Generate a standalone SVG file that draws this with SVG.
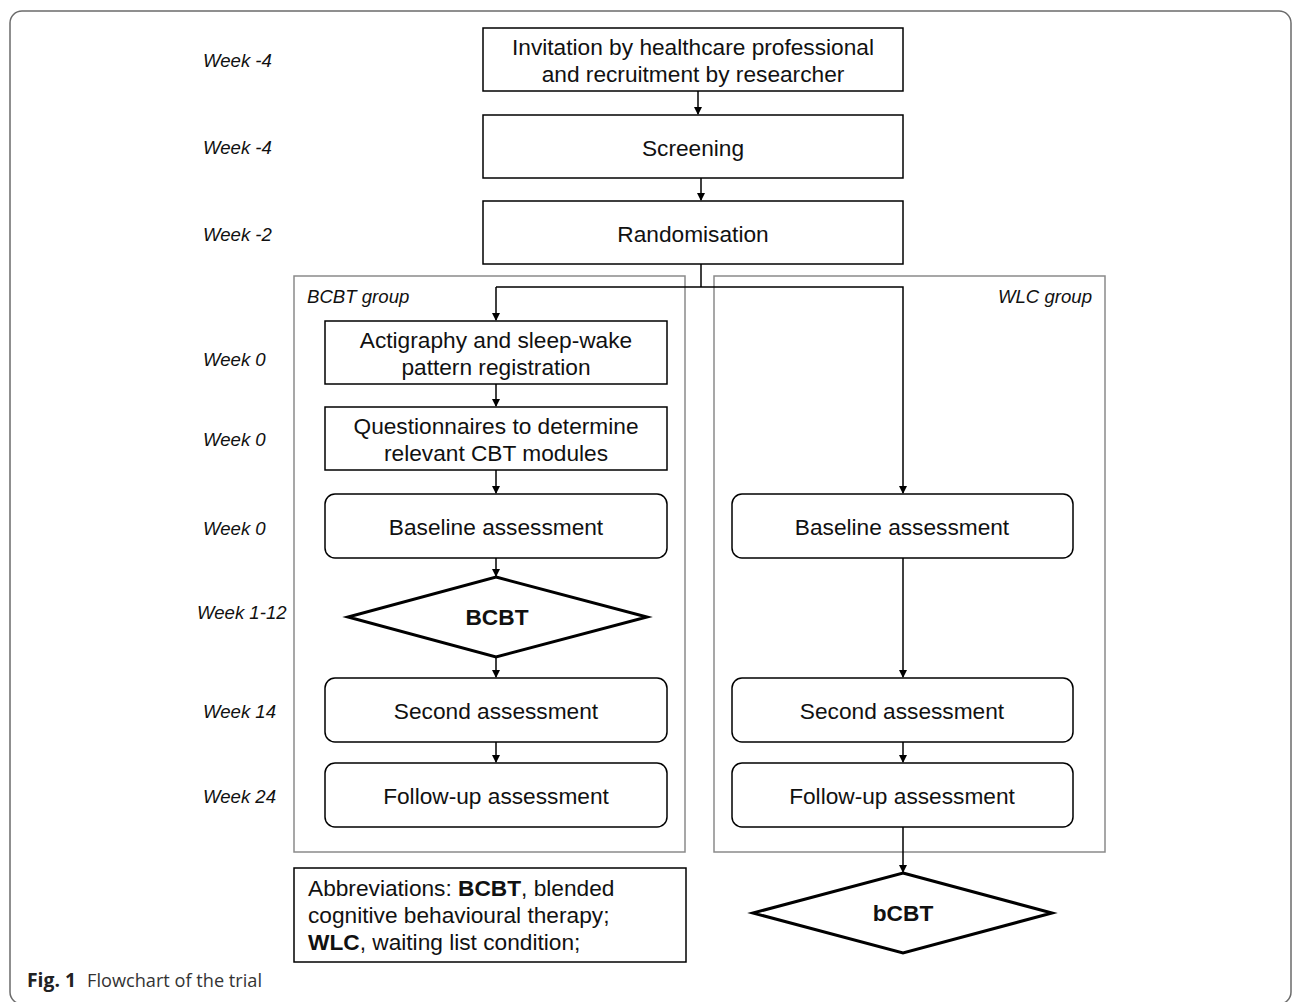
<svg xmlns="http://www.w3.org/2000/svg" width="1293" height="1002" viewBox="0 0 1293 1002">
<defs>
<marker id="arr" markerWidth="8" markerHeight="9" refX="7" refY="4" orient="auto" markerUnits="userSpaceOnUse">
<path d="M0,0 L8,4 L0,8 Z" fill="#000"/>
</marker>
<style>
.box{fill:#fff;stroke:#000;stroke-width:1.5}
.grp{fill:none;stroke:#8a8a8a;stroke-width:1.5}
.dia{fill:#fff;stroke:#000;stroke-width:3;stroke-linejoin:miter}
.t{font-family:"Liberation Sans",Arial,sans-serif;font-size:22.7px;fill:#111;text-anchor:middle}
.wk{font-family:"Liberation Sans",Arial,sans-serif;font-size:18.6px;font-style:italic;fill:#111}
.b{font-weight:bold}
.ab{font-family:"Liberation Sans",Arial,sans-serif;font-size:22.7px;fill:#111}
.conn{fill:none;stroke:#000;stroke-width:1.5}
</style>
</defs>
<rect x="1" y="1" width="1291" height="1000" fill="#fff"/>
<rect x="10" y="11" width="1281" height="993" rx="12" fill="none" stroke="#6b6b6b" stroke-width="1.5"/>

<g id="week-labels">
<text class="wk" x="203" y="67">Week -4</text>
<text class="wk" x="203" y="154">Week -4</text>
<text class="wk" x="203" y="241">Week -2</text>
<text class="wk" x="203" y="366">Week 0</text>
<text class="wk" x="203" y="446">Week 0</text>
<text class="wk" x="203" y="535">Week 0</text>
<text class="wk" x="197" y="619">Week 1-12</text>
<text class="wk" x="203" y="718">Week 14</text>
<text class="wk" x="203" y="803">Week 24</text>
</g>

<g id="bcbt-group">
<rect class="grp" x="294" y="276" width="391" height="576"/>
<text class="wk" x="307" y="303">BCBT group</text>
</g>
<g id="wlc-group">
<rect class="grp" x="714" y="276" width="391" height="576"/>
<text class="wk" x="1092" y="303" text-anchor="end">WLC group</text>
</g>

<g id="invitation">
<rect class="box" x="483" y="28" width="420" height="63"/>
<text class="t" x="693" y="55">Invitation by healthcare professional</text>
<text class="t" x="693" y="82">and recruitment by researcher</text>
</g>
<g id="screening">
<rect class="box" x="483" y="115" width="420" height="63"/>
<text class="t" x="693" y="156">Screening</text>
</g>
<g id="randomisation">
<rect class="box" x="483" y="201" width="420" height="63"/>
<text class="t" x="693" y="242">Randomisation</text>
</g>

<g id="actigraphy">
<rect class="box" x="325" y="321" width="342" height="63"/>
<text class="t" x="496" y="348">Actigraphy and sleep-wake</text>
<text class="t" x="496" y="375">pattern registration</text>
</g>
<g id="questionnaires">
<rect class="box" x="325" y="407" width="342" height="63"/>
<text class="t" x="496" y="434">Questionnaires to determine</text>
<text class="t" x="496" y="461">relevant CBT modules</text>
</g>
<g id="baseline-bcbt">
<rect class="box" x="325" y="494" width="342" height="64" rx="10"/>
<text class="t" x="496" y="535">Baseline assessment</text>
</g>
<g id="bcbt">
<polygon class="dia" points="496,577 647,617 496,657 348,617"/>
<text class="t b" x="497" y="625">BCBT</text>
</g>
<g id="second-bcbt">
<rect class="box" x="325" y="678" width="342" height="64" rx="10"/>
<text class="t" x="496" y="719">Second assessment</text>
</g>
<g id="followup-bcbt">
<rect class="box" x="325" y="763" width="342" height="64" rx="10"/>
<text class="t" x="496" y="804">Follow-up assessment</text>
</g>

<g id="baseline-wlc">
<rect class="box" x="732" y="494" width="341" height="64" rx="10"/>
<text class="t" x="902" y="535">Baseline assessment</text>
</g>
<g id="second-wlc">
<rect class="box" x="732" y="678" width="341" height="64" rx="10"/>
<text class="t" x="902" y="719">Second assessment</text>
</g>
<g id="followup-wlc">
<rect class="box" x="732" y="763" width="341" height="64" rx="10"/>
<text class="t" x="902" y="804">Follow-up assessment</text>
</g>
<g id="bcbt-wlc">
<polygon class="dia" points="903,873 1052,913 903,953 753,913"/>
<text class="t b" x="903" y="921">bCBT</text>
</g>

<g id="abbreviations">
<rect class="box" x="294" y="868" width="392" height="94"/>
<text class="ab" x="308" y="896">Abbreviations: <tspan class="b">BCBT</tspan>, blended</text>
<text class="ab" x="308" y="923">cognitive behavioural therapy;</text>
<text class="ab" x="308" y="950"><tspan class="b">WLC</tspan>, waiting list condition;</text>
</g>

<g id="connectors">
<line class="conn" x1="698" y1="91" x2="698" y2="114" marker-end="url(#arr)"/>
<line class="conn" x1="701" y1="178" x2="701" y2="200" marker-end="url(#arr)"/>
<polyline class="conn" points="701,264 701,287"/>
<polyline class="conn" points="496,287 903,287 903,493" marker-end="url(#arr)"/>
<line class="conn" x1="496" y1="287" x2="496" y2="320" marker-end="url(#arr)"/>
<line class="conn" x1="496" y1="384" x2="496" y2="406" marker-end="url(#arr)"/>
<line class="conn" x1="496" y1="470" x2="496" y2="493" marker-end="url(#arr)"/>
<line class="conn" x1="496" y1="558" x2="496" y2="576" marker-end="url(#arr)"/>
<line class="conn" x1="496" y1="657" x2="496" y2="677" marker-end="url(#arr)"/>
<line class="conn" x1="496" y1="742" x2="496" y2="762" marker-end="url(#arr)"/>
<line class="conn" x1="903" y1="558" x2="903" y2="677" marker-end="url(#arr)"/>
<line class="conn" x1="903" y1="742" x2="903" y2="762" marker-end="url(#arr)"/>
<line class="conn" x1="903" y1="827" x2="903" y2="872" marker-end="url(#arr)"/>
</g>

<g id="caption">
<text x="27" y="987" style="font-family:'Open Sans','Noto Sans',sans-serif;font-size:19px;fill:#222"><tspan font-weight="bold" textLength="49" lengthAdjust="spacingAndGlyphs">Fig. 1</tspan><tspan x="87" textLength="175" lengthAdjust="spacingAndGlyphs" fill="#333">Flowchart of the trial</tspan></text>
</g>
</svg>
